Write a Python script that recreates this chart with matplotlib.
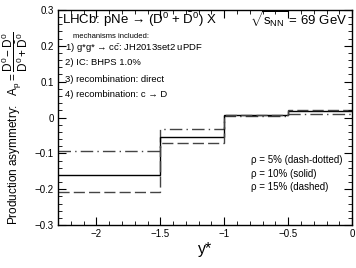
import numpy as np
import matplotlib.pyplot as plt
from matplotlib.ticker import MultipleLocator

plt.rcParams['font.family'] = ['Liberation Sans', 'DejaVu Sans']
plt.rcParams['mathtext.fontset'] = 'custom'
plt.rcParams['mathtext.rm'] = 'Liberation Sans'
plt.rcParams['mathtext.it'] = 'Liberation Sans'

# bin edges in y* and asymmetry per bin for the three rho values
edges = [-2.3, -1.5, -1.0, -0.5, 0.0]
rho5 = [-0.093, -0.031, 0.004, 0.010]    # dash-dotted
rho10 = [-0.160, -0.055, 0.006, 0.017]   # solid
rho15 = [-0.209, -0.070, 0.008, 0.022]   # dashed

mechanisms = ['1) g*g* → c$\\bar{\\rm c}$: JH2013set2 uPDF',
              '2) IC: BHPS 1.0%',
              '3) recombination: direct',
              '4) recombination: c → D']
rho_labels = ['ρ = 5% (dash-dotted)', 'ρ = 10% (solid)', 'ρ = 15% (dashed)']

fig = plt.figure(figsize=(3.56, 2.68), dpi=100)
ax = fig.add_axes([0.163, 0.160, 0.826, 0.803])

ax.stairs(rho5, edges, color='#444444', lw=1.0, ls=(0, (9, 3, 1, 3)), baseline=None)
ax.stairs(rho10, edges, color='black', lw=1.0, baseline=None)
ax.stairs(rho15, edges, color='#444444', lw=1.0, ls=(0, (8, 3)), baseline=None)

ax.set_xlim(-2.3, 0)
ax.set_ylim(-0.3, 0.3)
ax.xaxis.set_minor_locator(MultipleLocator(0.1))
ax.yaxis.set_minor_locator(MultipleLocator(0.02))
ax.set_xticks([-2, -1.5, -1, -0.5, 0])
ax.set_xticklabels(['−2', '−1.5', '−1', '−0.5', '0'])
ax.set_yticks([-0.3, -0.2, -0.1, 0, 0.1, 0.2, 0.3])
ax.set_yticklabels(['−0.3', '−0.2', '−0.1', '0', '0.1', '0.2', '0.3'])
ax.tick_params(which='both', direction='in', top=True, right=True, labelsize=7, pad=3)
ax.tick_params(which='major', length=6, width=0.8)
ax.tick_params(which='minor', length=3, width=0.6)
for s in ax.spines.values():
    s.set_linewidth(1.0)

ax.set_xlabel('y*', fontsize=11.5)
ax.xaxis.set_label_coords(0.5, -0.08)
ax.set_ylabel('Production asymmetry:   $A_{\\rm p} = \\dfrac{{\\rm D}^0 - \\bar{\\rm D}^0}{{\\rm D}^0 + \\bar{\\rm D}^0}$',
              fontsize=8.5)
ax.yaxis.set_label_coords(-0.095, 0.45)

ax.text(0.015, 0.955, 'LHCb: pNe → (D$^0$ + $\\bar{\\rm D}^0$) X', transform=ax.transAxes,
        fontsize=9.5, va='center', ha='left')
ax.text(0.985, 0.955, '$\\sqrt{s_{\\rm NN}}$ = 69 GeV', transform=ax.transAxes,
        fontsize=9.5, va='center', ha='right')
ax.text(0.05, 0.875, 'mechanisms included:', transform=ax.transAxes, fontsize=5.5, va='center')
for i, m in enumerate(mechanisms):
    ax.text(0.025, [0.827, 0.757, 0.678, 0.605][i], m, transform=ax.transAxes,
            fontsize=6.8, va='center')
for i, t in enumerate(rho_labels):
    ax.text(0.655, 0.303 - i * 0.064, t, transform=ax.transAxes, fontsize=7, va='center')

fig.savefig('out.png', dpi=100)
